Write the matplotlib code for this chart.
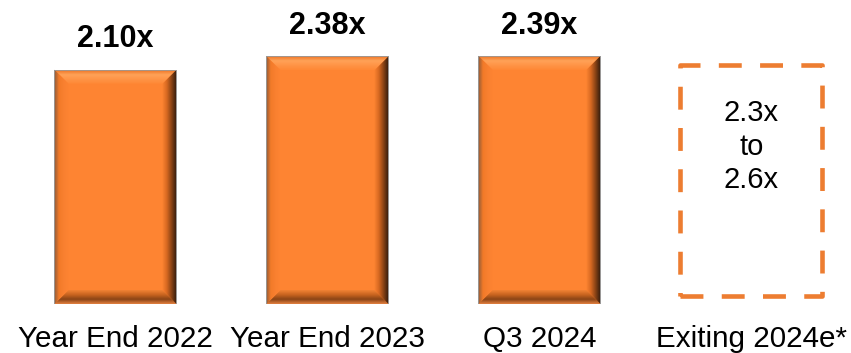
import numpy as np
import matplotlib
matplotlib.use("Agg")
import matplotlib.pyplot as plt
from matplotlib.patches import Polygon, Rectangle
from matplotlib.colors import LinearSegmentedColormap

plt.rcParams['font.family'] = ['Liberation Sans', 'DejaVu Sans']

categories = ["Year End 2022", "Year End 2023", "Q3 2024", "Exiting 2024e*"]
values = [2.10, 2.38, 2.39]
value_labels = ["2.10x", "2.38x", "2.39x"]
range_label = "2.3x\nto\n2.6x"

W, H = 851, 353
fig = plt.figure(figsize=(W / 100, H / 100), dpi=100)
base_px = 49            # baseline height in pixels from bottom
px_per_unit_y = 48.0
px_per_unit_x = 212.0
BASE = -2.78            # visual baseline value of the bars
ax = fig.add_axes([0, base_px / H, 1, (H - base_px) / H])
x0_px = 115.5
ax.set_xlim(-x0_px / px_per_unit_x, (W - x0_px) / px_per_unit_x)
ax.set_ylim(BASE, BASE + (H - base_px) / px_per_unit_y)
for s in ax.spines.values():
    s.set_visible(False)
ax.set_yticks([])
x = np.arange(len(categories))
ax.set_xticks(x, categories, fontsize=21.3)
ax.tick_params(axis='x', length=0, pad=15)
ax.set_facecolor('white')

bar_w = 122 / px_per_unit_x
bev = 14
dx = bev / px_per_unit_x
dy = bev / px_per_unit_y
face = '#FE8432'

def grad(poly_pts, colors, direction, extent):
    cmap = LinearSegmentedColormap.from_list('g', colors)
    n = 64
    g = np.linspace(0, 1, n)
    if direction == 'v':   # row 0 at top
        arr = g[:, None] * np.ones((1, 2))
    else:
        arr = np.ones((2, 1)) * g[None, :]
    poly = Polygon(poly_pts, closed=True, facecolor='none', edgecolor='none')
    ax.add_patch(poly)
    im = ax.imshow(arr, cmap=cmap, extent=extent, aspect='auto',
                   interpolation='bilinear', origin='upper', zorder=2)
    im.set_clip_path(poly)

bars = ax.bar(x[:3], [v - BASE for v in values], bottom=BASE, width=bar_w,
              color=face, edgecolor='#8a8a8a', linewidth=0.6, zorder=1)
for b in bars:
    L = b.get_x(); R = L + b.get_width(); B = b.get_y(); T = B + b.get_height()
    # top bevel: outer (top) -> inner
    grad([(L, T), (R, T), (R - dx, T - dy), (L + dx, T - dy)],
         ['#EE7526', '#FFA258', '#FF9446', '#FE8836'], 'v', (L, R, T - dy, T))
    # bottom bevel: inner (top) -> outer (bottom)
    grad([(L, B), (R, B), (R - dx, B + dy), (L + dx, B + dy)],
         ['#F08234', '#C8641F', '#8A4416', '#E38040'], 'v', (L, R, B, B + dy))
    # left bevel: outer (left) -> inner
    grad([(L, B), (L, T), (L + dx, T - dy), (L + dx, B + dy)],
         ['#8C5A3A', '#F27A28', '#F98030', '#FE8432'], 'h', (L, L + dx, B, T))
    # right bevel: inner -> outer (right)
    grad([(R, B), (R, T), (R - dx, T - dy), (R - dx, B + dy)],
         ['#FE8432', '#D96A22', '#8E4516', '#3E200E'], 'h', (R - dx, R, B, T))
    ax.add_patch(Rectangle((L, B), R - L, T - B, fill=False,
                           edgecolor='#9a9a9a', linewidth=0.6, zorder=3))

for xi, v, lab in zip(x[:3], values, value_labels):
    ax.annotate(lab, (xi, v), xytext=(0, 11), textcoords='offset points',
                ha='center', va='bottom', fontsize=22, fontweight='bold',
                color='black')

# dashed range box for the estimate
box_w = 142 / px_per_unit_x
box_bottom = BASE + 8 / px_per_unit_y
box_top = BASE + (304 - 65) / px_per_unit_y
ax.add_patch(Rectangle((x[3] - box_w / 2, box_bottom), box_w, box_top - box_bottom,
                       fill=False, edgecolor='#ED7D31', linewidth=3.3,
                       linestyle=(0, (5.0, 4.0)), joinstyle='round',
                       capstyle='butt', zorder=2))
ax.text(x[3], BASE + (304 - 147) / px_per_unit_y, range_label, ha='center',
        va='center', fontsize=21, linespacing=1.25, color='black')

fig.savefig('out.png', dpi=100)
